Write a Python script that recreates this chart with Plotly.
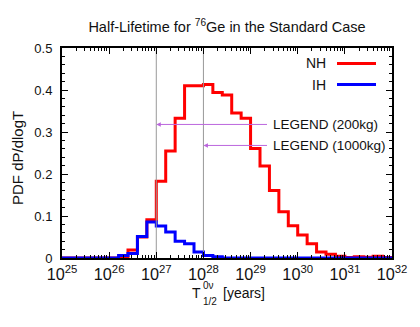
import math
import plotly.graph_objects as go

# ---- data ----
log_edges = [25.0 + 0.2 * i for i in range(36)]  # bin edges in log10(T)
nh_values = [0, 0, 0, 0, 0, 0, 0.002, 0.019, 0.050, 0.091,
             0.183, 0.255, 0.333, 0.410, 0.410, 0.413, 0.394, 0.388, 0.345, 0.333,
             0.261, 0.219, 0.161, 0.110, 0.077, 0.055, 0.034, 0.014, 0.009, 0.004,
             0.001, 0.003, 0.002, 0.004, 0.001]
ih_values = [0, 0, 0, 0, 0, 0, 0.006, 0.011, 0.051, 0.086,
             0.076, 0.062, 0.040, 0.034, 0.014, 0.006, 0.003, 0, 0, 0,
             0, 0, 0, 0, 0, 0, 0, 0, 0, 0,
             0, 0, 0, 0, 0]
sens_T = [1e27, 1e28]
sens_labels = ["LEGEND (200kg)", "LEGEND (1000kg)"]
sens_arrow_y = [0.318, 0.268]
series_names = ["NH", "IH"]
series_colors = ["#ff0000", "#0000ff"]

edges = [10 ** e for e in log_edges]
FONT = "Liberation Sans, Arial, sans-serif"
TXT = "#111111"

# page body has an 8px margin; plot area is 330x210
W, H = 412, 319
ML, MT, PW, PH = 54, 40, 330, 210


def px(xw):  # window x (reference pixels) -> paper x
    return (xw - 62) / PW


def py(yw):  # window y (reference pixels) -> paper y
    return (258 - yw) / PH


fig = go.Figure()
for name, vals, col in zip(series_names, [nh_values, ih_values], series_colors):
    fig.add_trace(go.Scatter(
        x=edges, y=list(vals) + [vals[-1]], mode="lines", name=name,
        line=dict(color=col, width=3, shape="hv"), showlegend=False))

for t in sens_T:
    fig.add_trace(go.Scatter(x=[t, t], y=[0, 0.5], mode="lines",
                             line=dict(color="#999999", width=1), showlegend=False))

# arrows + labels
tail_log = 29.38
for t, lab, yv in zip(sens_T, sens_labels, sens_arrow_y):
    fig.add_annotation(x=math.log10(t), y=yv, xref="x", yref="y",
                       ax=tail_log, ay=yv, axref="x", ayref="y",
                       text="", showarrow=True, arrowhead=2, arrowsize=0.9,
                       arrowwidth=1, arrowcolor="#bb66dd")
    fig.add_annotation(x=tail_log + 0.05, y=yv, xref="x", yref="y", text=lab,
                       showarrow=False, xanchor="left", yanchor="middle",
                       font=dict(family=FONT, size=13.5, color=TXT))

# manual legend (text left, sample right, gnuplot style)
leg_y = [63.5, 84.5]
for name, col, ly in zip(series_names, series_colors, leg_y):
    fig.add_annotation(x=px(328), y=py(ly), xref="paper", yref="paper", text=name,
                       showarrow=False, xanchor="right", yanchor="middle",
                       font=dict(family=FONT, size=14, color=TXT))
    fig.add_shape(type="line", xref="paper", yref="paper", x0=px(337), x1=px(376),
                  y0=py(ly), y1=py(ly), line=dict(color=col, width=3))

# x-axis title pieces (stacked super/subscript)
fig.add_annotation(x=px(196), y=py(293), xref="paper", yref="paper",
                   text="T", showarrow=False, xanchor="center", yanchor="middle",
                   font=dict(family=FONT, size=14, color=TXT))
fig.add_annotation(x=px(201), y=py(285.5), xref="paper", yref="paper",
                   text="0ν", showarrow=False, xanchor="left", yanchor="middle",
                   font=dict(family=FONT, size=10, color=TXT))
fig.add_annotation(x=px(201), y=py(301), xref="paper", yref="paper",
                   text="1/2", showarrow=False, xanchor="left", yanchor="middle",
                   font=dict(family=FONT, size=10, color=TXT))
fig.add_annotation(x=px(221), y=py(293), xref="paper", yref="paper",
                   text="[years]", showarrow=False, xanchor="left", yanchor="middle",
                   font=dict(family=FONT, size=14, color=TXT))

# y-axis title
fig.add_annotation(x=px(17), y=py(158), xref="paper", yref="paper",
                   text="PDF dP/dlogT", textangle=-90, showarrow=False,
                   xanchor="center", yanchor="middle",
                   font=dict(family=FONT, size=15, color=TXT))

fig.update_layout(
    width=W, height=H,
    margin=dict(l=ML, r=W - ML - PW, t=MT, b=H - MT - PH),
    paper_bgcolor="white", plot_bgcolor="white",
    font=dict(family=FONT, size=13, color=TXT),
    title=dict(text="Half-Lifetime for <sup>76</sup>Ge in the Standard Case",
               x=0.5, xref="paper", xanchor="center",
               y=1 - 19 / H, yref="container", yanchor="middle",
               font=dict(family=FONT, size=14.5, color=TXT)),
    xaxis=dict(type="log", range=[25, 32], dtick=1, exponentformat="power",
               showgrid=False, zeroline=False, showline=True, linecolor="black",
               linewidth=2, mirror="ticks", ticks="inside", ticklen=6,
               tickcolor="black", tickwidth=1, ticklabelstandoff=1,
               tickfont=dict(family=FONT, size=13, color=TXT),
               minor=dict(ticks="inside", ticklen=3, dtick="D1", tickcolor="black",
                          showgrid=False)),
    yaxis=dict(range=[0, 0.5], dtick=0.1, showgrid=False, zeroline=False,
               showline=True, linecolor="black", linewidth=2, mirror="ticks",
               ticks="inside", ticklen=6, tickcolor="black", tickwidth=1,
               tickfont=dict(family=FONT, size=13, color=TXT),
               ticklabelstandoff=5,
               minor=dict(ticks="inside", ticklen=3, dtick=0.02, tickcolor="black",
                          showgrid=False)),
)

fig.write_html("out.html")
